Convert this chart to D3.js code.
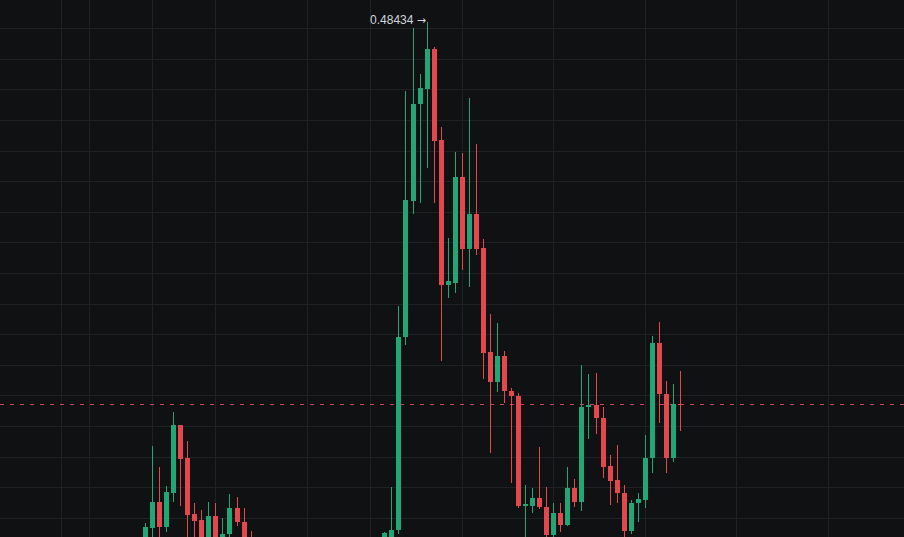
<!DOCTYPE html>
<html>
<head>
<meta charset="utf-8">
<script src="https://cdn.jsdelivr.net/npm/d3@7"></script>
<style>
  html, body { margin: 0; padding: 0; background: #0f1113; overflow: hidden; }
  svg { display: block; }
</style>
</head>
<body>
<div id="chart"></div>
<script>
// ---- data (candle slot index, OHLC) ----
const slots = [0,1,2,3,4,5,6,7,8,9,10,11,12,13,14,15,
  34,35,36,37,38,39,40,41,42,43,44,45,46,47,48,49,50,51,52,53,54,55,56,57,58,59,60,
  61,62,63,64,65,66,67,68,69,70,71,72,73,74,75,76];
const open = [0.1423,0.1536,0.1704,0.1543,0.1765,0.2207,0.1992,0.1624,0.1586,0.1460,0.1612,0.1460,0.1493,0.1667,0.1573,0.1460,
  0.1450,0.1455,0.1521,0.2784,0.3673,0.4303,0.4403,0.4665,0.4070,0.3122,0.3137,0.3830,0.3357,0.3586,0.3362,0.2682,0.2490,0.2658,0.2431,0.2397,0.1678,0.1680,0.1732,0.1673,0.1488,0.1630,0.1554,
  0.1797,0.1702,0.2322,0.2338,0.2255,0.1939,0.1848,0.1765,0.1514,0.1695,0.1717,0.1990,0.2741,0.2408,0.1990,0.2346];
const high = [0.1569,0.2070,0.1935,0.1808,0.2290,0.2209,0.2105,0.1695,0.1652,0.1704,0.1695,0.1597,0.1756,0.1739,0.1663,0.1516,
  0.1505,0.1804,0.2985,0.4392,0.4800,0.4501,0.48434,0.4680,0.4157,0.3427,0.3993,0.3985,0.4346,0.4044,0.3421,0.2933,0.2872,0.2693,0.2447,0.2414,0.1815,0.1797,0.2065,0.1804,0.1699,0.1699,0.1935,
  0.1852,0.2599,0.2541,0.2549,0.2323,0.2011,0.2076,0.1815,0.1717,0.1761,0.2142,0.2789,0.2878,0.2495,0.2473,0.2560];
const low = [0.1380,0.1400,0.1450,0.1510,0.1706,0.1678,0.1450,0.1460,0.1400,0.1420,0.1430,0.1430,0.1460,0.1547,0.1400,0.1370,
  0.1420,0.1430,0.1495,0.2730,0.3586,0.3656,0.3885,0.3660,0.2627,0.3035,0.3072,0.3220,0.3107,0.3320,0.2506,0.2026,0.2425,0.2349,0.1826,0.1663,0.1460,0.1634,0.1656,0.1470,0.1465,0.1510,0.1550,
  0.1673,0.1647,0.2114,0.2146,0.1859,0.1684,0.1699,0.1477,0.1495,0.1575,0.1663,0.1892,0.2218,0.1892,0.1967,0.2168];
const close = [0.1543,0.1704,0.1543,0.1769,0.2207,0.1985,0.1619,0.1582,0.1450,0.1612,0.1460,0.1495,0.1667,0.1571,0.1430,0.1400,
  0.1501,0.1521,0.2784,0.3678,0.4303,0.4408,0.4665,0.4065,0.3122,0.3148,0.3830,0.3357,0.3586,0.3357,0.2680,0.2490,0.2658,0.2431,0.2397,0.1678,0.1691,0.1732,0.1669,0.1488,0.1634,0.1554,0.1797,
  0.1702,0.2327,0.2338,0.2251,0.1935,0.1843,0.1761,0.1514,0.1699,0.1724,0.1993,0.2741,0.2408,0.1990,0.2342,0.2338];
// grid: price levels and time-scale mark slots
const priceGrid = [0.16,0.18,0.20,0.22,0.24,0.26,0.28,0.30,0.32,0.34,0.36,0.38,0.40,0.42,0.44,0.46,0.48,0.50];
const timeGrid = [-12,-8,1,10,23,32,45,58,71,84,97];
const highLabel = "0.48434";

// ---- drawing ----
const W = 904, H = 537;
const UP = "#22a676", DOWN = "#e2484d";

const x = d3.scaleLinear().domain([0, 76]).range([145, 680]);
const y = d3.scaleLinear().domain([0.1475, 0.4985]).range([H, 0]);

const svg = d3.select("#chart").append("svg")
  .attr("width", W).attr("height", H)
  .style("background", "#0f1113");

const gGrid = svg.append("g").attr("shape-rendering", "crispEdges");
gGrid.selectAll("line.h").data(priceGrid).join("line")
  .attr("class", "h")
  .attr("x1", 0).attr("x2", W)
  .attr("y1", d => Math.round(y(d)) + 0.5).attr("y2", d => Math.round(y(d)) + 0.5)
  .attr("stroke", "#1f2225").attr("stroke-width", 1);
gGrid.selectAll("line.v").data(timeGrid).join("line")
  .attr("class", "v")
  .attr("y1", 0).attr("y2", H)
  .attr("x1", d => Math.round(x(d)) + 0.5).attr("x2", d => Math.round(x(d)) + 0.5)
  .attr("stroke", "#1f2225").attr("stroke-width", 1);

const candles = slots.map((s, i) => ({ s, o: open[i], h: high[i], l: low[i], c: close[i] }));

// last price dashed line
const last = candles[candles.length - 1];
svg.append("line")
  .attr("x1", 0).attr("x2", W)
  .attr("y1", Math.round(y(last.c)) - 0.5).attr("y2", Math.round(y(last.c)) - 0.5)
  .attr("stroke", last.c >= last.o ? UP : "#c9475f")
  .attr("stroke-width", 1)
  .attr("shape-rendering", "crispEdges")
  .attr("stroke-dasharray", "4,6");

const gC = svg.append("g").attr("shape-rendering", "crispEdges");
const cg = gC.selectAll("g.c").data(candles).join("g").attr("class", "c");
cg.append("rect")
  .attr("x", d => Math.round(x(d.s)))
  .attr("width", 1)
  .attr("y", d => y(d.h))
  .attr("height", d => Math.max(1, y(d.l) - y(d.h)))
  .attr("fill", d => d.c >= d.o ? UP : DOWN);
cg.append("rect")
  .attr("x", d => Math.round(x(d.s)) - 2)
  .attr("width", 5)
  .attr("y", d => y(Math.max(d.o, d.c)))
  .attr("height", d => Math.max(1, Math.abs(y(d.o) - y(d.c))))
  .attr("fill", d => d.c >= d.o ? UP : DOWN);

// high marker label
const hiIdx = high.indexOf(d3.max(high));
const lbl = svg.append("text")
  .attr("x", Math.round(x(slots[hiIdx])) - 1)
  .attr("y", y(high[hiIdx]) + 2.5)
  .attr("text-anchor", "end")
  .attr("fill", "#d1d4dc")
  .attr("font-family", "'Liberation Sans', Arial, sans-serif")
  .attr("font-size", 12);
lbl.append("tspan").text(highLabel + " ");
lbl.append("tspan").attr("font-family", "'DejaVu Sans', sans-serif").attr("font-size", 11).text("\u2192");
</script>
</body>
</html>
